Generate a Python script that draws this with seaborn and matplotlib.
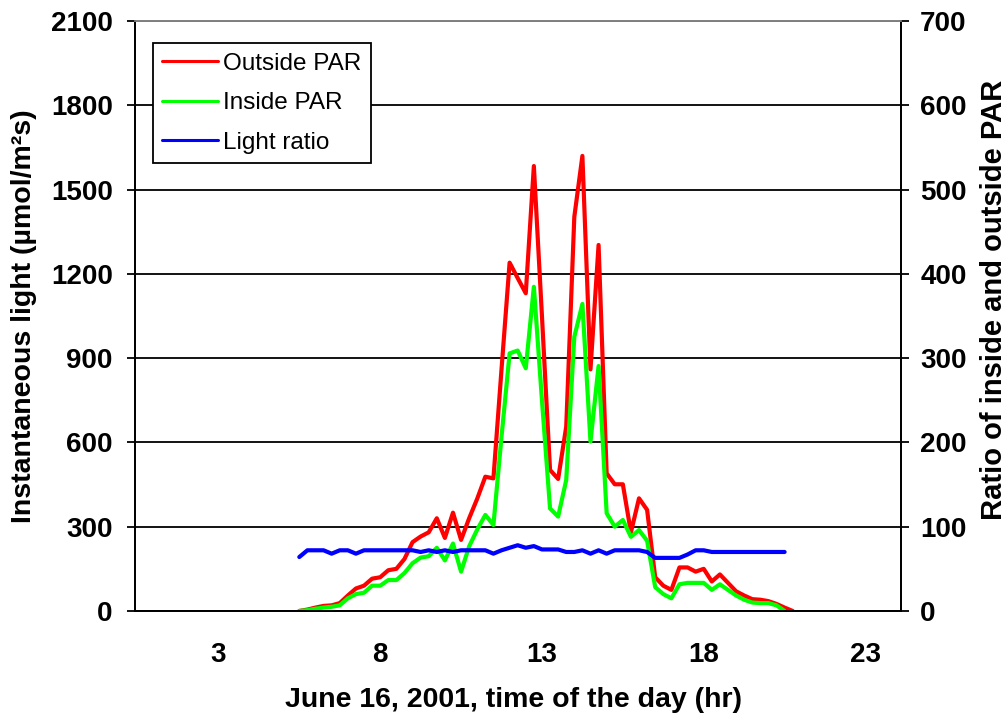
import numpy as np
import pandas as pd
import matplotlib.pyplot as plt
import seaborn as sns

# ================= DATOS =================
# hora del día, cada 15 minutos
hora = [5.5, 5.75, 6.0, 6.25, 6.5, 6.75, 7.0, 7.25, 7.5, 7.75,
        8.0, 8.25, 8.5, 8.75, 9.0, 9.25, 9.5, 9.75, 10.0, 10.25,
        10.5, 10.75, 11.0, 11.25, 11.5, 11.75, 12.0, 12.25, 12.5, 12.75,
        13.0, 13.25, 13.5, 13.75, 14.0, 14.25, 14.5, 14.75, 15.0, 15.25,
        15.5, 15.75, 16.0, 16.25, 16.5, 16.75, 17.0, 17.25, 17.5, 17.75,
        18.0, 18.25, 18.5, 18.75, 19.0, 19.25, 19.5, 19.75, 20.0, 20.25,
        20.5, 20.75]

# PAR exterior (umol/m2s)
par_fuera = [0, 5, 12, 18, 20, 28, 55, 80, 90, 115,
             120, 145, 150, 185, 245, 265, 280, 330, 260, 350,
             253, 330, 400, 478, 472, 860, 1240, 1185, 1131, 1584,
             1050, 502, 470, 656, 1403, 1620, 860, 1303, 490, 451,
             451, 280, 401, 360, 120, 90, 75, 155, 155, 140,
             150, 105, 130, 100, 70, 55, 42, 40, 35, 25,
             12, 0]

# PAR interior (termina a las 20:30)
par_dentro = [0, 3, 8, 12, 15, 20, 45, 60, 65, 90,
              90, 110, 110, 135, 170, 190, 195, 225, 180, 240,
              140, 230, 290, 342, 306, 620, 917, 927, 864, 1154,
              750, 365, 336, 466, 976, 1093, 603, 872, 348, 300,
              324, 264, 288, 250, 85, 60, 45, 95, 100, 100,
              100, 75, 95, 75, 55, 40, 30, 28, 28, 20,
              0]

# razón interior / exterior (eje derecho)
razon = [64, 72, 72, 72, 68, 72, 72, 68, 72, 72,
         72, 72, 72, 72, 72, 70, 72, 70, 72, 70,
         72, 72, 72, 72, 68, 72, 75, 78, 75, 77,
         73, 73, 73, 70, 70, 72, 68, 72, 68, 72,
         72, 72, 72, 70, 63, 63, 63, 63, 67, 72,
         72, 70, 70, 70, 70, 70, 70, 70, 70, 70,
         70]

hora_int = hora[:len(par_dentro)]

df_fuera = pd.DataFrame({'hora': hora, 'par': par_fuera})
df_dentro = pd.DataFrame({'hora': hora_int, 'par': par_dentro})
df_razon = pd.DataFrame({'hora': hora_int, 'razon': razon})

# ================= ESTILO =================
sns.set_style("white")
plt.rcParams['font.family'] = ['Liberation Sans', 'DejaVu Sans']
plt.rcParams['font.weight'] = 'bold'
for k in ('text.color', 'axes.labelcolor', 'xtick.color', 'ytick.color'):
    plt.rcParams[k] = 'black'

fig = plt.figure(figsize=(10.07, 7.15), dpi=100)
ax = fig.add_axes([0.134, 0.1455, 0.7605, 0.825])
ax2 = ax.twinx()

lw = 3.0
sns.lineplot(data=df_fuera, x='hora', y='par', ax=ax, color='#FF0000',
             linewidth=lw, label='Outside PAR')
sns.lineplot(data=df_dentro, x='hora', y='par', ax=ax, color='#00FF00',
             linewidth=lw, label='Inside PAR')
sns.lineplot(data=df_razon, x='hora', y='razon', ax=ax2, color='#0000FF',
             linewidth=lw, label='Light ratio')

# ejes
ax.set_xlim(0.42, 24.09)
ax.set_ylim(0, 2100)
ax2.set_ylim(0, 700)
ax.set_xticks([3, 8, 13, 18, 23])
ax.set_yticks(range(0, 2101, 300))
ax2.set_yticks(range(0, 701, 100))

ax.set_axisbelow(True)
ax.yaxis.grid(True, color='black', linewidth=1.3)

for a in (ax, ax2):
    for s in a.spines.values():
        s.set_linewidth(1.3)
        s.set_color('black')
    a.spines['top'].set_color('#808080')

fs = 20
ax.tick_params(axis='y', direction='out', length=6, width=1.3, pad=10,
               labelsize=fs, left=True)
ax2.tick_params(axis='y', direction='out', length=6, width=1.3, pad=8,
                labelsize=fs, right=True)
ax.tick_params(axis='x', length=0, pad=22, labelsize=fs)

ax.set_xlabel('June 16, 2001, time of the day (hr)', fontsize=20.5,
              fontweight='bold')
ax.set_ylabel('Instantaneous light (µmol/m²s)', fontsize=20.5,
              fontweight='bold')
ax2.set_ylabel('Ratio of inside and outside PAR', fontsize=21,
               fontweight='bold')
ax.xaxis.set_label_coords(0.494, -0.151)
ax.xaxis.label.set_va('center')
ax.yaxis.set_label_coords(-0.128, 0.5)
ax2.yaxis.set_label_coords(1.1034, 0.527)

# leyenda única con las tres series
h1, l1 = ax.get_legend_handles_labels()
h2, l2 = ax2.get_legend_handles_labels()
ax.get_legend().remove()
ax2.get_legend().remove()
leg = ax2.legend(h1 + h2, l1 + l2, loc='upper left',
                 bbox_to_anchor=(0.023, 0.963), frameon=True, fancybox=False,
                 edgecolor='black', framealpha=1, borderaxespad=0,
                 handlelength=2.3, handletextpad=0.2, labelspacing=0.72,
                 borderpad=0.4, prop={'size': 17.5, 'weight': 'normal'})
leg.get_frame().set_linewidth(1.3)
for ln in leg.get_lines():
    ln.set_linewidth(2.2)

plt.savefig('out.png', dpi=100)
